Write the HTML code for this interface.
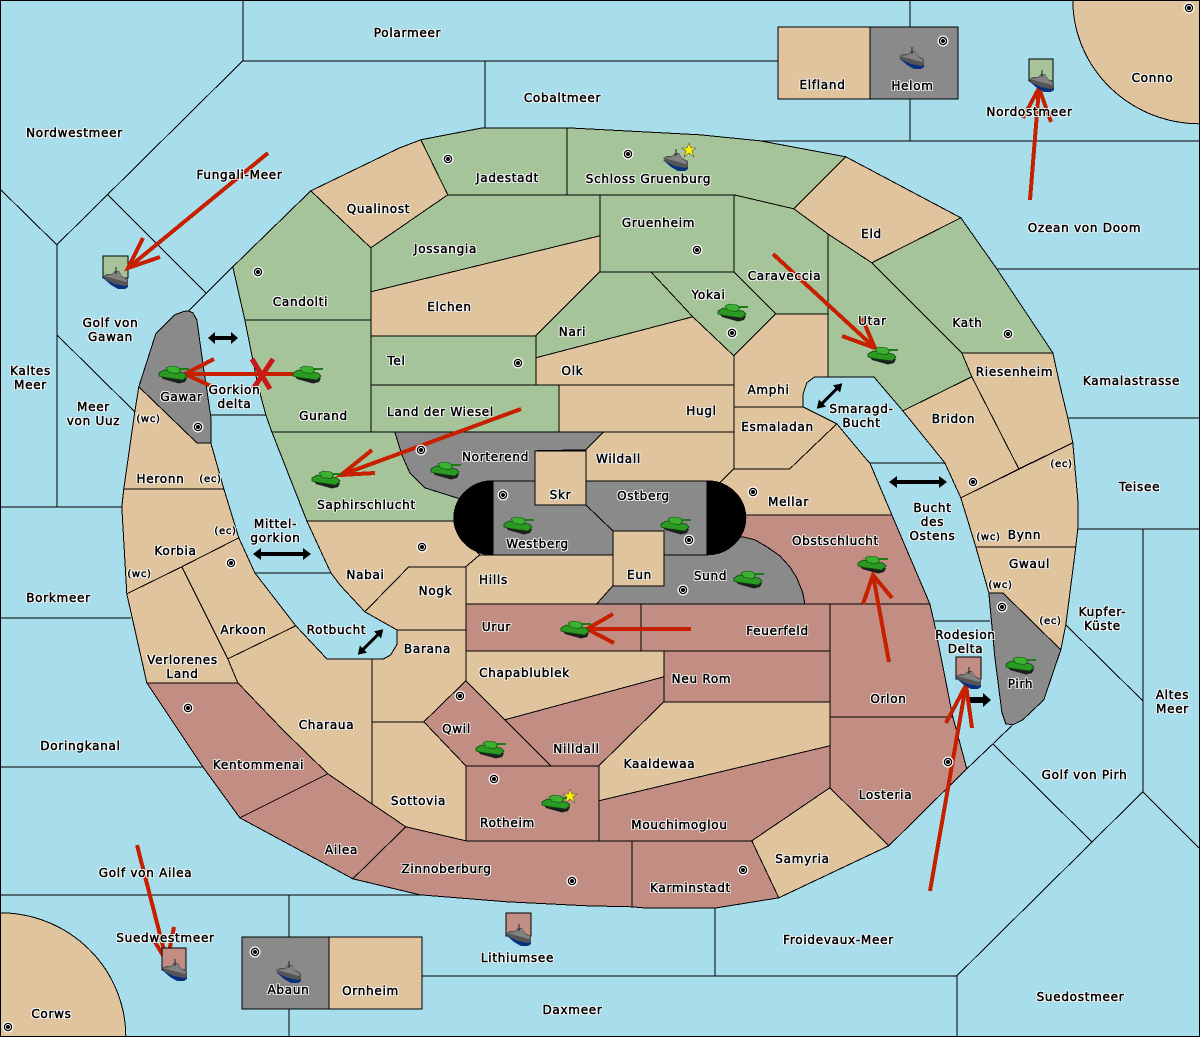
<!DOCTYPE html>
<html><head><meta charset="utf-8"><style>
html,body{margin:0;padding:0;background:#A8DDEB}
#m{position:relative;width:1200px;height:1037px;overflow:hidden;font:12px/14px "DejaVu Sans","Liberation Sans",sans-serif;letter-spacing:.72px;color:#000}
svg{position:absolute;left:0;top:0}
#m div{position:absolute;margin-top:1px;margin-left:.5px;transform:translate(-50%,-50%);white-space:nowrap;text-align:center;-webkit-text-stroke:.5px #000;
text-shadow:1px 0 #fff,-1px 0 #fff,0 1px #fff,0 -1px #fff,1px 1px #fff,-1px -1px #fff,1px -1px #fff,-1px 1px #fff}
.l polygon,.l path,.l rect,.l line,.l polyline{stroke:#000;stroke-width:1}
.g{fill:#A5C49A}.t{fill:#E0C49E}.r{fill:#C28D82}.y{fill:#8A8A8A}
.a polyline,.a line{fill:none;stroke:#C62000;stroke-width:4}
</style></head><body><div id="m">
<svg width="1200" height="1037" viewBox="0 0 1200 1037">
<defs>
<g id="tank"><polygon points="1,9 4,13 20,17.5 26,16 28,12 12,8" fill="#1E1E1E"/><polygon points="0,7 5,4 25,7 28,10 24,14 6,11.5 0,10" fill="#2A9A22" stroke="#0C4A0C" stroke-width=".8"/><polygon points="7,2 11,0 19,1 22,4 19,7.5 10,6.5" fill="#3CB030" stroke="#0C4A0C" stroke-width=".6"/><rect x="20" y="2" width="10" height="2" fill="#1F7A18"/></g>
<g id="ship"><polygon points="0,11 8,18 15,22 22,22 25,20 25,15 12,13" fill="#08307E"/><polygon points="0,9 4,7 9,7 12,4 16,4 19,9 25,12 25,18 22,19 12,17 3,13" fill="#555"/><polygon points="1,9 9,8 13,5 16,5 19,10 24,13 23,15 12,12" fill="#828282"/><line x1="13" y1="0" x2="13" y2="7" stroke="#222"/></g>
<g id="dot"><circle r="5.5" fill="#fff"/><circle r="3.6" fill="#fff" stroke="#000" stroke-width="1.3"/><circle r="2" fill="#000"/></g>
</defs>
<rect width="1200" height="1037" fill="#A8DDEB"/>
<g class="l" shape-rendering="crispEdges" transform="translate(-.2,-.2)">
<polyline fill="none" points="243,0 243,61 778,61"/>
<polyline fill="none" points="243,61 57,245 0,189"/>
<polyline fill="none" points="108,195 206,293"/>
<polyline fill="none" points="233,267 188,312"/>
<polyline fill="none" points="57,245 57,507"/>
<polyline fill="none" points="0,507 122,507"/>
<polyline fill="none" points="57,335 135,412"/>
<polyline fill="none" points="0,618 131,618"/>
<polyline fill="none" points="0,767 203,767"/>
<polyline fill="none" points="0,895 420,895"/>
<polyline fill="none" points="289,895 289,937"/>
<polyline fill="none" points="289,1009 289,1036"/>
<polyline fill="none" points="485,61 485,128"/>
<polyline fill="none" points="910,0 910,27"/>
<polyline fill="none" points="910,99 910,141"/>
<polyline fill="none" points="760,141 1199,141"/>
<polyline fill="none" points="997,269 1199,269"/>
<polyline fill="none" points="1068,418 1199,418"/>
<polyline fill="none" points="1078,529 1199,529"/>
<polyline fill="none" points="1143,529 1143,792"/>
<polyline fill="none" points="1066,625 1143,701"/>
<polyline fill="none" points="1199,848 1143,792 957,976 957,1036"/>
<polyline fill="none" points="993,744 1092,842"/>
<polyline fill="none" points="1012,726 967,769"/>
<polyline fill="none" points="422,976 957,976"/>
<polyline fill="none" points="715,908 715,976"/>
<polyline fill="none" points="934,621 990,621"/>
<polyline fill="none" points="211,415 266,415"/>
<polyline fill="none" points="255,573 331,573"/>
<polyline fill="none" points="870,463 945,463"/>
<path class="t" d="M1073 0A127 124 0 0 0 1201 124L1201 0Z"/>
<path class="t" d="M0 913A126 124 0 0 1 126 1038L-2 1038L-2 913Z"/>
<polygon class="g" points="233,267 311,191 371,248 371,320 245,320"/>
<polygon class="t" points="311,191 400,148 421,140 448,195 371,248"/>
<polygon class="g" points="421,140 483,128 567,128 567,195 448,195"/>
<polygon class="g" points="567,128 700,135 760,141 846,157 794,209 734,195 567,195"/>
<polygon class="g" points="448,195 600,195 600,236 371,292 371,248"/>
<polygon class="g" points="600,195 734,195 734,272 600,272"/>
<polygon class="t" points="371,292 600,236 600,272 536,336 371,336"/>
<polygon class="g" points="600,272 651,272 693,317 536,358 536,336"/>
<polygon class="g" points="651,272 734,272 776,314 734,356 693,317"/>
<polygon class="t" points="536,358 693,317 734,356 734,385 536,385"/>
<polygon class="g" points="371,336 536,336 536,385 371,385"/>
<polygon class="g" points="371,385 559,385 559,432 371,432"/>
<polygon class="t" points="559,385 734,385 734,432 559,432"/>
<polygon class="g" points="245,320 371,320 371,432 272,432 266,415 258,385 251,350"/>
<polygon class="g" points="272,432 395,432 402,455 410,473 425,488 460,499 470,510 470,521 307,521"/>
<polygon class="y" points="395,432 604,432 586,450 535,451 535,481 490,485 470,510 460,499 425,488 410,473 402,455"/>
<polygon class="g" points="734,195 794,209 828,234 828,314 776,314 734,272"/>
<polygon class="t" points="846,157 961,218 872,263 828,234 794,209"/>
<polygon class="g" points="961,218 997,269 1053,353 962,353 917,308 872,263"/>
<polygon class="g" points="828,234 872,263 917,308 962,353 972,377 903,411 874,377 828,377"/>
<polygon class="t" points="962,353 1053,353 1060,385 1068,418 1073,443 1019,469 972,377"/>
<polygon class="t" points="972,377 1019,469 961,498 945,463 903,411"/>
<polygon class="t" points="961,498 1073,443 1078,500 1078,529 1076,547 976,547"/>
<polygon class="t" points="976,547 1076,547 1066,625 1061,650 1003,593 989,593"/>
<polygon class="y" points="989,593 1003,593 1061,650 1044,700 1023,720 1013,725 1006,724 1002,712 995,657"/>
<polygon class="t" points="734,356 776,314 828,314 828,377 815,377 807,383 803,395 803,407 734,407"/>
<polygon class="t" points="734,407 803,407 837,424 790,469 734,469"/>
<polygon class="t" points="604,432 734,432 734,469 720,483 586,483 586,450"/>
<polygon class="t" points="720,483 734,469 790,469 837,424 867,460 870,463 892,515 746,515"/>
<polygon class="r" points="730,515 892,515 930,604 805,604 803,593 797,578 790,567 780,556 767,547 755,540 743,537 730,537"/>
<polygon class="y" points="597,604 613,586 664,586 664,555 707,555 730,537 743,537 755,540 767,547 780,556 790,567 797,578 803,593 805,604"/>
<polygon class="t" points="307,521 454,521 470,545 480,555 466,567 409,567 365,612 340,585 331,573"/>
<polygon class="t" points="480,555 613,555 613,586 597,604 466,604 466,567"/>
<polygon class="t" points="409,567 466,567 466,630 397,630 365,612"/>
<polygon class="t" points="397,630 466,630 466,681 424,722 372,722 372,659 384,659 391,655 397,645"/>
<path d="M493 481A39 37 0 0 0 493 555Z" fill="#000"/>
<path d="M707 481A39 37 0 0 1 707 555Z" fill="#000"/>
<polygon class="y" points="493,481 535,481 535,505 586,505 613,531 613,555 493,555"/>
<polygon class="y" points="586,481 707,481 707,555 664,555 664,531 613,531 586,505"/>
<rect class="t" x="535" y="451" width="51" height="54"/>
<rect class="t" x="613" y="531" width="51" height="55"/>
<rect class="r" x="466" y="604" width="175" height="47"/>
<rect class="r" x="641" y="604" width="189" height="47"/>
<polygon class="t" points="466,651 664,651 664,677 505,720 466,681"/>
<rect class="r" x="664" y="651" width="166" height="51"/>
<polygon class="r" points="466,681 424,722 466,766 551,766"/>
<polygon class="r" points="505,720 664,677 664,702 599,766 551,766"/>
<polygon class="t" points="664,702 830,702 830,746 599,801 599,766"/>
<polygon class="r" points="599,801 830,746 830,788 752,841 599,841"/>
<rect class="r" x="466" y="766" width="133" height="75"/>
<polygon class="t" points="372,722 424,722 466,766 466,841 406,827 372,804"/>
<polygon class="r" points="830,604 930,604 934,621 953,717 830,717"/>
<polygon class="r" points="830,717 953,717 967,769 889,846 830,788"/>
<polygon class="t" points="752,841 830,788 889,846 779,898"/>
<polygon class="r" points="632,841 752,841 779,898 717,908 643,908 632,907"/>
<polygon class="r" points="406,827 466,841 632,841 632,907 587,906 507,902 420,895 353,879"/>
<polygon class="r" points="240,818 328,774 406,827 353,879"/>
<polygon class="r" points="147,683 238,683 283,730 328,774 240,818 203,767"/>
<polygon class="t" points="238,683 228,659 296,626 327,659 372,659 372,804 328,774 283,730"/>
<polygon class="t" points="127,594 182,567 228,659 238,683 147,683"/>
<polygon class="t" points="182,567 239,538 255,573 296,626 228,659"/>
<polygon class="t" points="124,489 224,489 239,538 182,567 127,594 122,507"/>
<polygon class="t" points="139,387 197,443 211,443 224,489 124,489 135,412"/>
<polygon class="y" points="183,312 188,311 193,313 197,320 204,370 211,417 211,443 197,443 139,387 156,334 175,315"/>
<rect class="t" x="778" y="27" width="92" height="72"/>
<rect class="y" x="870" y="27" width="88" height="72"/>
<rect class="y" x="242" y="937" width="87" height="72"/>
<rect class="t" x="329" y="937" width="93" height="72"/>
</g>
<rect x=".5" y=".5" width="1199" height="1036" fill="none" stroke="#000" shape-rendering="crispEdges"/>
<g fill="#000">
<polygon points="208,338 215,332 215,336 231,336 231,332 238,338 231,344 231,340 215,340 215,344"/>
<polygon points="889,482 897,476 897,480 939,480 939,476 947,482 939,488 939,484 897,484 897,488"/>
<polygon points="253,554 261,548 261,552 303,552 303,548 311,554 303,560 303,556 261,556 261,560"/>
<polygon points="967,697 983,697 983,693 991,700 983,707 983,703 967,703"/>
<g transform="translate(829.5,396) rotate(-45)"><polygon points="-18,0 -10,-5 -10,-1.5 10,-1.5 10,-5 18,0 10,5 10,1.5 -10,1.5 -10,5"/></g>
<g transform="translate(370.5,642) rotate(-45)"><polygon points="-18,0 -10,-5 -10,-1.5 10,-1.5 10,-5 18,0 10,5 10,1.5 -10,1.5 -10,5"/></g>
</g>
<g class="a" shape-rendering="crispEdges">
<polyline points="137,845 167,962"/><polyline points="155,942 167,962 174,927"/>
</g>
<g shape-rendering="crispEdges" stroke="#000" transform="translate(-.2,-.2)">
<rect class="g" x="103" y="256" width="25" height="22"/>
<rect class="g" x="1029" y="59" width="24" height="22"/>
<rect class="r" x="162" y="948" width="24" height="22"/>
<rect class="r" x="506" y="913" width="25" height="23"/>
<rect class="r" x="956" y="657" width="25" height="22"/>
</g>
<g class="a" shape-rendering="crispEdges">
<polyline points="268,153 128,268"/><polyline points="143,238 128,268 160,257"/>
<polyline points="1030,200 1039,88"/><polyline points="1023,118 1039,88 1051,122"/>
<polyline points="773,254 875,348"/><polyline points="842,336 875,348 862,318"/>
<polyline points="521,409 341,475"/><polyline points="372,450 341,475 375,473"/>
<polyline points="293,374 185,374"/><polyline points="214,359 185,374 213,387"/>
<polyline points="691,629 587,629"/><polyline points="613,614 587,629 614,643"/>
<polyline points="889,662 873,575"/><polyline points="863,604 873,575 892,598"/>
<polyline points="930,891 966,685"/><polyline points="946,723 966,685 972,728"/>
<polyline points="252,359 270,389" style="stroke:#C81818;stroke-width:5"/><polyline points="273,359 253,389" style="stroke:#C81818;stroke-width:5"/>
</g>
<use href="#ship" x="103" y="267"/><use href="#ship" x="1029" y="70"/><use href="#ship" x="899" y="47"/><use href="#ship" x="162" y="959"/><use href="#ship" x="506" y="924"/><use href="#ship" x="956" y="667"/><use href="#ship" x="276" y="961"/><use href="#ship" x="663" y="149"/>
<use href="#tank" x="504" y="517"/><use href="#tank" x="661" y="517"/><use href="#tank" x="734" y="571"/><use href="#tank" x="561" y="621"/><use href="#tank" x="431" y="462"/><use href="#tank" x="159" y="366"/><use href="#tank" x="293" y="366"/><use href="#tank" x="312" y="471"/><use href="#tank" x="718" y="304"/><use href="#tank" x="868" y="347"/><use href="#tank" x="858" y="556"/><use href="#tank" x="1006" y="657"/><use href="#tank" x="476" y="741"/><use href="#tank" x="542" y="795"/>
<polygon points="689,143 691,148 696,148 692,151 694,157 689,153 684,157 686,151 682,148 687,148" fill="#FFF000" stroke="#555" stroke-width=".6"/>
<polygon points="570,789 572,794 577,794 573,797 575,803 570,799 565,803 567,797 563,794 568,794" fill="#FFF000" stroke="#555" stroke-width=".6"/>
<use href="#dot" x="258" y="272"/><use href="#dot" x="448" y="159"/><use href="#dot" x="628" y="154"/><use href="#dot" x="697" y="250"/><use href="#dot" x="732" y="333"/><use href="#dot" x="1008" y="334"/><use href="#dot" x="518" y="363"/><use href="#dot" x="421" y="450"/><use href="#dot" x="503" y="495"/><use href="#dot" x="689" y="540"/><use href="#dot" x="683" y="590"/><use href="#dot" x="422" y="547"/><use href="#dot" x="753" y="492"/><use href="#dot" x="1189" y="8"/><use href="#dot" x="943" y="41"/><use href="#dot" x="973" y="482"/><use href="#dot" x="1002" y="607"/><use href="#dot" x="231" y="563"/><use href="#dot" x="198" y="427"/><use href="#dot" x="188" y="708"/><use href="#dot" x="460" y="696"/><use href="#dot" x="494" y="779"/><use href="#dot" x="572" y="881"/><use href="#dot" x="743" y="870"/><use href="#dot" x="948" y="762"/><use href="#dot" x="8" y="1027"/><use href="#dot" x="255" y="952"/>
</svg>
<div style="left:407px;top:32px">Polarmeer</div>
<div style="left:562px;top:97px">Cobaltmeer</div>
<div style="left:822px;top:84px">Elfland</div>
<div style="left:912px;top:85px">Helom</div>
<div style="left:1152px;top:77px">Conno</div>
<div style="left:1029px;top:111px">Nordostmeer</div>
<div style="left:74px;top:132px">Nordwestmeer</div>
<div style="left:239px;top:174px">Fungali-Meer</div>
<div style="left:507px;top:177px">Jadestadt</div>
<div style="left:648px;top:178px">Schloss Gruenburg</div>
<div style="left:378px;top:208px">Qualinost</div>
<div style="left:658px;top:222px">Gruenheim</div>
<div style="left:871px;top:233px">Eld</div>
<div style="left:1084px;top:227px">Ozean von Doom</div>
<div style="left:445px;top:248px">Jossangia</div>
<div style="left:784px;top:275px">Caraveccia</div>
<div style="left:708px;top:294px">Yokai</div>
<div style="left:300px;top:301px">Candolti</div>
<div style="left:449px;top:306px">Elchen</div>
<div style="left:872px;top:320px">Utar</div>
<div style="left:967px;top:322px">Kath</div>
<div style="left:572px;top:331px">Nari</div>
<div style="left:110px;top:329px">Golf von<br>Gawan</div>
<div style="left:396px;top:360px">Tel</div>
<div style="left:572px;top:370px">Olk</div>
<div style="left:1014px;top:371px">Riesenheim</div>
<div style="left:1131px;top:380px">Kamalastrasse</div>
<div style="left:30px;top:377px">Kaltes<br>Meer</div>
<div style="left:768px;top:389px">Amphi</div>
<div style="left:181px;top:396px">Gawar</div>
<div style="left:234px;top:396px">Gorkion<br>delta</div>
<div style="left:701px;top:410px">Hugl</div>
<div style="left:440px;top:411px">Land der Wiesel</div>
<div style="left:323px;top:415px">Gurand</div>
<div style="left:93px;top:413px">Meer<br>von Uuz</div>
<div style="left:861px;top:415px">Smaragd-<br>Bucht</div>
<div style="left:953px;top:418px">Bridon</div>
<div style="left:148px;top:419px;font-size:10px">(wc)</div>
<div style="left:777px;top:426px">Esmaladan</div>
<div style="left:618px;top:458px">Wildall</div>
<div style="left:495px;top:456px">Norterend</div>
<div style="left:160px;top:478px">Heronn</div>
<div style="left:210px;top:479px;font-size:10px">(ec)</div>
<div style="left:1061px;top:464px;font-size:10px">(ec)</div>
<div style="left:1139px;top:486px">Teisee</div>
<div style="left:560px;top:494px">Skr</div>
<div style="left:643px;top:495px">Ostberg</div>
<div style="left:788px;top:501px">Mellar</div>
<div style="left:366px;top:504px">Saphirschlucht</div>
<div style="left:932px;top:521px">Bucht<br>des<br>Ostens</div>
<div style="left:275px;top:530px">Mittel-<br>gorkion</div>
<div style="left:225px;top:531px;font-size:10px">(ec)</div>
<div style="left:1024px;top:534px">Bynn</div>
<div style="left:988px;top:537px;font-size:10px">(wc)</div>
<div style="left:835px;top:540px">Obstschlucht</div>
<div style="left:537px;top:543px">Westberg</div>
<div style="left:175px;top:550px">Korbia</div>
<div style="left:1029px;top:563px">Gwaul</div>
<div style="left:493px;top:579px">Hills</div>
<div style="left:710px;top:575px">Sund</div>
<div style="left:639px;top:574px">Eun</div>
<div style="left:365px;top:574px">Nabai</div>
<div style="left:139px;top:574px;font-size:10px">(wc)</div>
<div style="left:1000px;top:585px;font-size:10px">(wc)</div>
<div style="left:435px;top:590px">Nogk</div>
<div style="left:58px;top:597px">Borkmeer</div>
<div style="left:1102px;top:618px">Kupfer-<br>Küste</div>
<div style="left:1050px;top:621px;font-size:10px">(ec)</div>
<div style="left:496px;top:626px">Urur</div>
<div style="left:777px;top:630px">Feuerfeld</div>
<div style="left:243px;top:629px">Arkoon</div>
<div style="left:336px;top:629px">Rotbucht</div>
<div style="left:965px;top:641px">Rodesion<br>Delta</div>
<div style="left:427px;top:648px">Barana</div>
<div style="left:182px;top:666px">Verlorenes<br>Land</div>
<div style="left:524px;top:672px">Chapablublek</div>
<div style="left:701px;top:678px">Neu Rom</div>
<div style="left:1020px;top:683px">Pirh</div>
<div style="left:1172px;top:701px">Altes<br>Meer</div>
<div style="left:888px;top:698px">Orlon</div>
<div style="left:326px;top:724px">Charaua</div>
<div style="left:456px;top:728px">Qwil</div>
<div style="left:80px;top:745px">Doringkanal</div>
<div style="left:576px;top:748px">Nilldall</div>
<div style="left:659px;top:763px">Kaaldewaa</div>
<div style="left:258px;top:764px">Kentommenai</div>
<div style="left:1084px;top:774px">Golf von Pirh</div>
<div style="left:885px;top:794px">Losteria</div>
<div style="left:418px;top:800px">Sottovia</div>
<div style="left:507px;top:822px">Rotheim</div>
<div style="left:679px;top:824px">Mouchimoglou</div>
<div style="left:341px;top:849px">Ailea</div>
<div style="left:802px;top:858px">Samyria</div>
<div style="left:446px;top:868px">Zinnoberburg</div>
<div style="left:145px;top:872px">Golf von Ailea</div>
<div style="left:690px;top:887px">Karminstadt</div>
<div style="left:165px;top:937px">Suedwestmeer</div>
<div style="left:838px;top:939px">Froidevaux-Meer</div>
<div style="left:517px;top:957px">Lithiumsee</div>
<div style="left:288px;top:989px">Abaun</div>
<div style="left:370px;top:990px">Ornheim</div>
<div style="left:1080px;top:996px">Suedostmeer</div>
<div style="left:572px;top:1009px">Daxmeer</div>
<div style="left:51px;top:1013px">Corws</div>
</div></body></html>
